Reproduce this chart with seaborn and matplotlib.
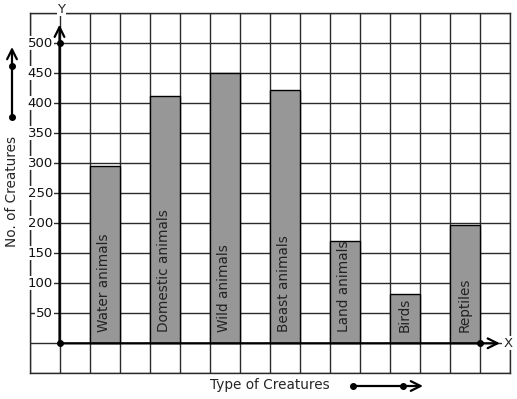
import matplotlib
matplotlib.use("Agg")
import matplotlib.pyplot as plt
import seaborn as sns
import numpy as np

# data
creatures = ['Water animals', 'Domestic animals', 'Wild animals', 'Beast animals',
             'Land animals', 'Birds', 'Reptiles']
counts = [296, 413, 450, 423, 171, 82, 198]
y_ticks = [50, 100, 150, 200, 250, 300, 350, 400, 450, 500]

sns.set_style("white")
plt.rcParams['font.family'] = ['DejaVu Sans']

fig = plt.figure(figsize=(5.17, 3.99), dpi=100)
ax = fig.add_axes([29.5 / 517, 25.7 / 399, 480 / 517, 360 / 399])

sns.barplot(x=creatures, y=counts, color='#979797', saturation=1, width=0.5,
            edgecolor='black', linewidth=1, ax=ax, zorder=2)

# graph-paper grid
ax.set_xlim(-1.25, 6.75)
ax.set_ylim(-50, 550)
ax.set_xticks(np.arange(-1.25, 6.76, 0.5))
ax.set_yticks(np.arange(-50, 551, 50))
ax.grid(True, color='#2a2a2a', lw=1)
ax.set_axisbelow(True)
ax.tick_params(length=0, labelbottom=False, labelleft=False)
for s in ax.spines.values():
    s.set_color('#2a2a2a')
    s.set_linewidth(1)
ax.set_xlabel('')
ax.set_ylabel('')

ox = -0.75  # position of y axis
arrow = dict(arrowstyle='->,head_length=0.7,head_width=0.35', lw=1.6, color='black',
             shrinkA=0, shrinkB=0)
ax.annotate('', xy=(ox, 531), xytext=(ox, 0), arrowprops=arrow, zorder=5,
            annotation_clip=False)
ax.annotate('', xy=(6.59, 0), xytext=(ox, 0), arrowprops=arrow, zorder=5,
            annotation_clip=False)
ax.plot([ox, ox, 6.25], [0, 500, 0], 'o', color='black', ms=4, zorder=6, clip_on=False)

box = dict(facecolor='white', edgecolor='none', pad=0.5)
for t in y_ticks:
    ax.text(-0.86, t, str(t), ha='right', va='center', fontsize=9.5, color='#111111',
            bbox=box, zorder=4)
ax.text(-0.72, 557, 'Y', ha='center', va='center', fontsize=9.5, bbox=box,
        zorder=4, clip_on=False)
ax.text(6.72, 0, 'X', ha='center', va='center', fontsize=9.5, bbox=box,
        zorder=4, clip_on=False)

for i, name in enumerate(creatures):
    ax.text(i, 18, name, rotation=90, ha='center', va='bottom', fontsize=9.8,
            color='#222222', zorder=4)

# axis titles with direction arrows
fig.text(12 / 517, 1 - 191 / 399, 'No. of Creatures', rotation=90, ha='center',
         va='center', fontsize=9.8)
fig.text(269.5 / 517, 1 - 385 / 399, 'Type of Creatures', ha='center', va='center',
         fontsize=9.8)
ax.annotate('', xy=(12, 399 - 47), xytext=(12, 399 - 117), xycoords='figure pixels',
            textcoords='figure pixels', arrowprops=arrow, annotation_clip=False)
ax.annotate('', xy=(423, 399 - 386), xytext=(352, 399 - 386), xycoords='figure pixels',
            textcoords='figure pixels', arrowprops=arrow, annotation_clip=False)
fig.lines.append(plt.Line2D([12 / 517, 12 / 517, 353 / 517, 403 / 517],
                            [1 - 117 / 399, 1 - 66 / 399, 1 - 386 / 399, 1 - 386 / 399],
                            ls='none', marker='o', ms=4, color='black',
                            transform=fig.transFigure))

fig.savefig('out.png', dpi=100)
